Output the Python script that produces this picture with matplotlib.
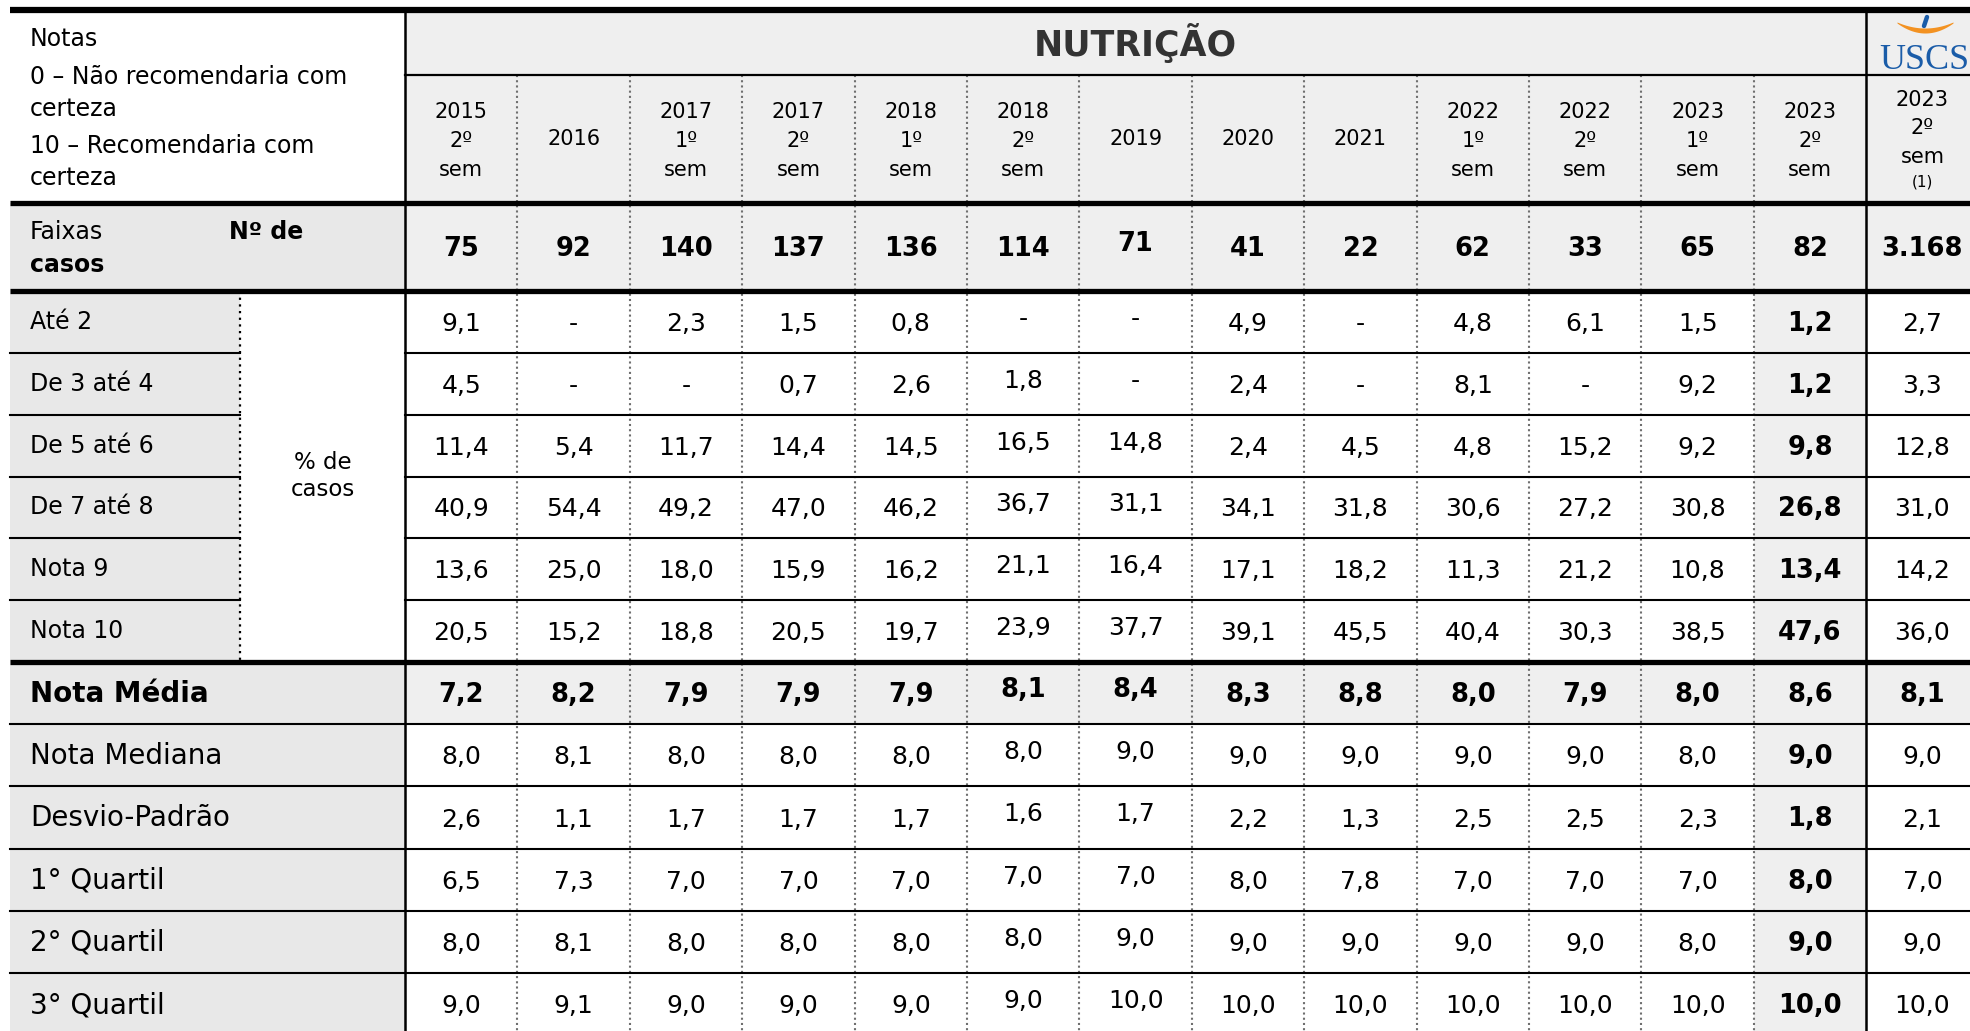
import matplotlib
matplotlib.use("Agg")
import matplotlib.pyplot as plt
import numpy as np
from matplotlib.patches import Rectangle

plt.rcParams["font.family"] = ["DejaVu Sans"]

# ---- data -------------------------------------------------------------
periods = ["2015\n2º\nsem", "2016", "2017\n1º\nsem", "2017\n2º\nsem", "2018\n1º\nsem",
           "2018\n2º\nsem", "2019", "2020", "2021", "2022\n1º\nsem", "2022\n2º\nsem",
           "2023\n1º\nsem", "2023\n2º\nsem", "2023\n2º\nsem"]
n_casos = [75, 92, 140, 137, 136, 114, 71, 41, 22, 62, 33, 65, 82, 3168]

faixas = ["Até 2", "De 3 até 4", "De 5 até 6", "De 7 até 8", "Nota 9", "Nota 10"]
ate_2 = [9.1, None, 2.3, 1.5, 0.8, None, None, 4.9, None, 4.8, 6.1, 1.5, 1.2, 2.7]
de_3_4 = [4.5, None, None, 0.7, 2.6, 1.8, None, 2.4, None, 8.1, None, 9.2, 1.2, 3.3]
de_5_6 = [11.4, 5.4, 11.7, 14.4, 14.5, 16.5, 14.8, 2.4, 4.5, 4.8, 15.2, 9.2, 9.8, 12.8]
de_7_8 = [40.9, 54.4, 49.2, 47.0, 46.2, 36.7, 31.1, 34.1, 31.8, 30.6, 27.2, 30.8, 26.8, 31.0]
nota_9 = [13.6, 25.0, 18.0, 15.9, 16.2, 21.1, 16.4, 17.1, 18.2, 11.3, 21.2, 10.8, 13.4, 14.2]
nota_10 = [20.5, 15.2, 18.8, 20.5, 19.7, 23.9, 37.7, 39.1, 45.5, 40.4, 30.3, 38.5, 47.6, 36.0]
pct_rows = [ate_2, de_3_4, de_5_6, de_7_8, nota_9, nota_10]

stat_labels = ["Nota Média", "Nota Mediana", "Desvio-Padrão", "1° Quartil", "2° Quartil", "3° Quartil"]
nota_media = [7.2, 8.2, 7.9, 7.9, 7.9, 8.1, 8.4, 8.3, 8.8, 8.0, 7.9, 8.0, 8.6, 8.1]
nota_mediana = [8.0, 8.1, 8.0, 8.0, 8.0, 8.0, 9.0, 9.0, 9.0, 9.0, 9.0, 8.0, 9.0, 9.0]
desvio = [2.6, 1.1, 1.7, 1.7, 1.7, 1.6, 1.7, 2.2, 1.3, 2.5, 2.5, 2.3, 1.8, 2.1]
quartil_1 = [6.5, 7.3, 7.0, 7.0, 7.0, 7.0, 7.0, 8.0, 7.8, 7.0, 7.0, 7.0, 8.0, 7.0]
quartil_2 = [8.0, 8.1, 8.0, 8.0, 8.0, 8.0, 9.0, 9.0, 9.0, 9.0, 9.0, 8.0, 9.0, 9.0]
quartil_3 = [9.0, 9.1, 9.0, 9.0, 9.0, 9.0, 10.0, 10.0, 10.0, 10.0, 10.0, 10.0, 10.0, 10.0]
stat_rows = [nota_media, nota_mediana, desvio, quartil_1, quartil_2, quartil_3]

HIGHLIGHT = 12   # "2023 2º sem" column, bold and shaded
TOTAL = 13       # last column, the whole university


def fmt(v):
    if v is None:
        return "-"
    return f"{v:.1f}".replace(".", ",")


def fmt_int(v):
    return f"{v:,}".replace(",", ".")


# ---- layout (pixels) -------------------------------------------------
W, H = 1970, 1031
X0, XL, XD = 10, 240, 405          # table left, sub-label divider, first data column
CW = 112.4                          # data column width
Y_TOP, Y_TITLE, Y_HEAD, Y_FX = 10, 75, 203, 291
PCT_H = (662 - Y_FX) / 6
Y_PCT = 662
ST_H = 62.2

GREY_LBL = "#e8e8e8"
GREY = "#efefef"
raise_px = [0, 0, 0, 0, 0, 5, 5, 0, 0, 0, 0, 0, 0, 0]

fig = plt.figure(figsize=(W / 100, H / 100), dpi=100)
ax = fig.add_axes([0, 0, 1, 1])
ax.set_xlim(0, W)
ax.set_ylim(H, 0)
ax.axis("off")

ncol = len(periods)
xc = [XD + CW * (i + 0.5) for i in range(ncol)]
x_right = XD + CW * ncol


def box(x, y, w, h, color):
    ax.add_patch(Rectangle((x, y), w, h, facecolor=color, edgecolor="none", zorder=0))


# backgrounds
box(XD, Y_TOP, x_right - XD, Y_HEAD - Y_TOP, GREY)
box(X0, Y_HEAD, XD - X0, Y_FX - Y_HEAD, GREY_LBL)
box(XD, Y_HEAD, x_right - XD, Y_FX - Y_HEAD, GREY)
box(X0, Y_FX, XL - X0, Y_PCT - Y_FX, GREY_LBL)
box(XD + CW * HIGHLIGHT, Y_FX, CW, H - Y_FX, GREY)
box(X0, Y_PCT, XD - X0, ST_H, GREY_LBL)
box(XD, Y_PCT, x_right - XD, ST_H, GREY)
box(X0, Y_PCT + ST_H, XD - X0, H, GREY_LBL)

# header: left notes
notes = ["Notas", "0 – Não recomendaria com", "certeza", "10 – Recomendaria com", "certeza"]
for txt, y in zip(notes, [39, 77, 109, 146, 178]):
    ax.text(30, y, txt, fontsize=17, va="center", ha="left")

ax.text((XD + XD + CW * 13) / 2, 43, "NUTRIÇÃO", fontsize=25, fontweight="bold",
        color="#333333", ha="center", va="center")

# logo cell
u = np.linspace(-1, 1, 60)
lx = 1925 + 28 * u
ax.fill_between(lx, 22 + 6 * (1 - u ** 2), 23 + 10 * (1 - u ** 2), color="#f39222", lw=0,
                zorder=5)
ax.plot([1927, 1924], [17, 26], color="#1a5ca8", lw=3.2, solid_capstyle="round", zorder=5)
ax.text(1879, 69, "USCS", fontsize=26, family="Liberation Serif", color="#1a5ca8",
        ha="left", va="baseline")

# period header
for i, p in enumerate(periods):
    lines = p.split("\n")
    if i == TOTAL:
        ys = [100, 128, 157]
        ax.text(xc[i], 182, "(1)", fontsize=11, ha="center", va="center")
    elif len(lines) == 1:
        ys = [139]
    else:
        ys = [112, 141, 170]
    for t, y in zip(lines, ys):
        ax.text(xc[i], y, t, fontsize=15, ha="center", va="center")

# Faixas / Nº de casos row
ax.text(30, 232, "Faixas", fontsize=17, va="center")
ax.text(229, 232, "Nº de", fontsize=17, fontweight="bold", va="center")
ax.text(30, 265, "casos", fontsize=17, fontweight="bold", va="center")
for i, n in enumerate(n_casos):
    dy = 5 if i == 6 else 0
    ax.text(xc[i], 249 - dy, fmt_int(n), fontsize=18.5, fontweight="bold",
            ha="center", va="center")

# percentage rows
ax.text((XL + XD) / 2, 476, "% de\ncasos", fontsize=16.5, ha="center", va="center",
        linespacing=1.25)
for r, (lab, vals) in enumerate(zip(faixas, pct_rows)):
    yc = Y_FX + PCT_H * (r + 0.5) + 2
    ax.text(30, yc - 2, lab, fontsize=17, va="center")
    for i, v in enumerate(vals):
        bold = i == HIGHLIGHT
        ax.text(xc[i], yc - raise_px[i], fmt(v), fontsize=18.5 if bold else 18,
                fontweight="bold" if bold else "normal", ha="center", va="center")

# summary statistics
for r, (lab, vals) in enumerate(zip(stat_labels, stat_rows)):
    yc = Y_PCT + ST_H * (r + 0.5) + 2
    ax.text(30, yc - 1, lab, fontsize=20, fontweight="bold" if r == 0 else "normal",
            va="center")
    for i, v in enumerate(vals):
        bold = r == 0 or i == HIGHLIGHT
        ax.text(xc[i], yc - raise_px[i], fmt(v), fontsize=18.5 if bold else 18,
                fontweight="bold" if bold else "normal", ha="center", va="center")

# grid lines
for i in range(1, ncol - 1):
    x = XD + CW * i
    ax.plot([x, x], [Y_TITLE, H], color="#6f6f6f", lw=1.5, ls=(0, (1, 1.5)), zorder=2)
ax.plot([XL, XL], [Y_FX, Y_PCT], color="black", lw=1.6, ls=(0, (1, 2)), zorder=2)

for r in range(1, 6):
    y = Y_FX + PCT_H * r
    ax.plot([X0, XL], [y, y], color="black", lw=1.5, zorder=3)
    ax.plot([XD, W], [y, y], color="black", lw=1.5, zorder=3)
for r in range(1, 7):
    y = Y_PCT + ST_H * r
    ax.plot([X0, W], [y, y], color="black", lw=1.5, zorder=3)

ax.plot([XD, W], [Y_TITLE, Y_TITLE], color="black", lw=1.6, zorder=3)
ax.plot([X0, W], [Y_TOP, Y_TOP], color="black", lw=4.5, zorder=4, solid_capstyle="butt")
for y in [Y_HEAD, Y_FX, Y_PCT]:
    ax.plot([X0, W], [y, y], color="black", lw=3.8, zorder=4, solid_capstyle="butt")
for x in [XD, XD + CW * TOTAL]:
    ax.plot([x, x], [Y_TOP, H], color="black", lw=1.8, zorder=4)

fig.savefig("out.png", dpi=100)
